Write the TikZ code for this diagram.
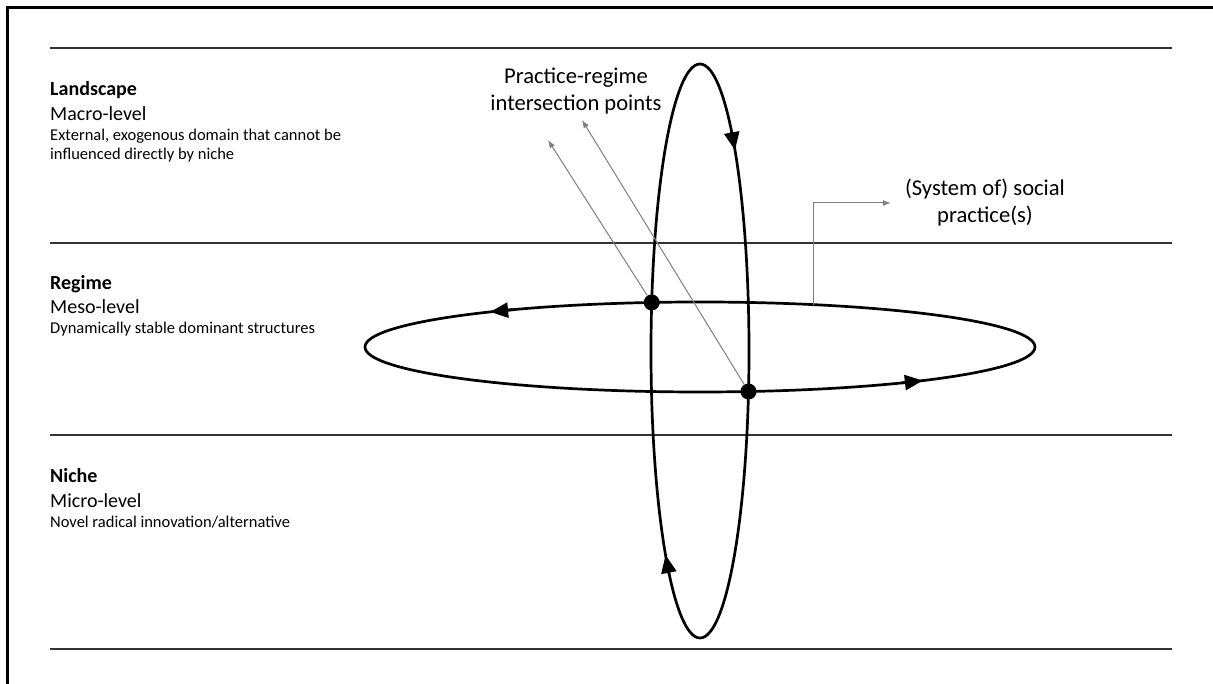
\documentclass[tikz,border=0pt]{standalone}
\usepackage{fontspec}
\setmainfont{Carlito}
\usepackage{xcolor}
\definecolor{colRule}{HTML}{333333}
\definecolor{colPointer}{HTML}{7F7F7F}
\usetikzlibrary{arrows.meta}
\tikzset{
    levelline/.style={line width=2.2pt, color=colRule},
    loopline/.style={line width=2.7pt, color=black},
    loopdir/.style={loopline, -{Triangle[length=18pt, width=15pt]}},
    pointer/.style={-{Latex[length=8pt, width=6pt]}, line width=1pt, color=colPointer},
    leveltitle/.style={anchor=base west, inner sep=0pt,
        font=\fontsize{20}{24}\selectfont\bfseries},
    levelname/.style={anchor=base west, inner sep=0pt,
        font=\fontsize{20}{24}\selectfont},
    leveltext/.style={anchor=base west, inner sep=0pt,
        font=\fontsize{16.5}{20}\selectfont},
    biglabel/.style={align=center, inner sep=0pt,
        font=\fontsize{22.6}{27}\selectfont},
    crossdot/.style={circle, fill=black, minimum size=16pt, inner sep=0pt},
}

\begin{document}
\begin{tikzpicture}[x=1pt, y=1pt]
    \useasboundingbox (0,0) rectangle (1213,684);
    % frame (cut at right and bottom)
    \draw[line width=2.2pt] (7.5,0) -- (7.5,676.5) -- (1213,676.5);
    % level borders
    \foreach \y in {636, 441, 249, 35}
        \draw[levelline] (50,\y) -- (1172,\y);

    % level texts
    \node[leveltitle] (land)  at (50,588) {Landscape};
    \node[levelname]  (macro) at (50,563) {Macro-level};
    \node[leveltext]  (landa) at (50,543) {External, exogenous domain that cannot be};
    \node[leveltext]  (landb) at (50,524) {influenced directly by niche};

    \node[leveltitle] (reg)   at (50,394) {Regime};
    \node[levelname]  (meso)  at (50,370) {Meso-level};
    \node[leveltext]  (rega)  at (50,350) {Dynamically stable dominant structures};

    \node[leveltitle] (niche) at (50,201) {Niche};
    \node[levelname]  (micro) at (50,176) {Micro-level};
    \node[leveltext]  (nichea) at (50,156) {Novel radical innovation/alternative};

    % the two loops
    \coordinate (vc) at (700,333);
    \coordinate (hc) at (700,337);
    \draw[loopline] (vc) ellipse [x radius=49, y radius=287];
    \draw[loopline] (hc) ellipse [x radius=335, y radius=45];
    \draw[loopdir] ([shift={(vc)}]50:49 and 287) -- ([shift={(vc)}]44.4:49 and 287);
    \draw[loopdir] ([shift={(vc)}]231:49 and 287) -- ([shift={(vc)}]225.3:49 and 287);
    \draw[loopdir] ([shift={(hc)}]124:335 and 45) -- ([shift={(hc)}]128.8:335 and 45);
    \draw[loopdir] ([shift={(hc)}]307:335 and 45) -- ([shift={(hc)}]311.7:335 and 45);

    % intersection points
    \node[crossdot] (ptA) at (651.7,381.5) {};
    \node[crossdot] (ptB) at (748.5,292.5) {};

    % labels
    \node[biglabel] (isect)  at (576,593) {Practice-regime\\intersection points};
    \node[biglabel] (social) at (985,481) {(System of) social\\practice(s)};

    \coordinate (tipA) at (548,544);
    \coordinate (tipB) at (582,564);
    \coordinate (sysfoot) at (813,379.4);
    \draw[pointer] (ptA) -- (tipA);
    \draw[pointer] (ptB) -- (tipB);
    \draw[pointer] (sysfoot) |- ([xshift=-14pt]social.west);
\end{tikzpicture}
\end{document}
